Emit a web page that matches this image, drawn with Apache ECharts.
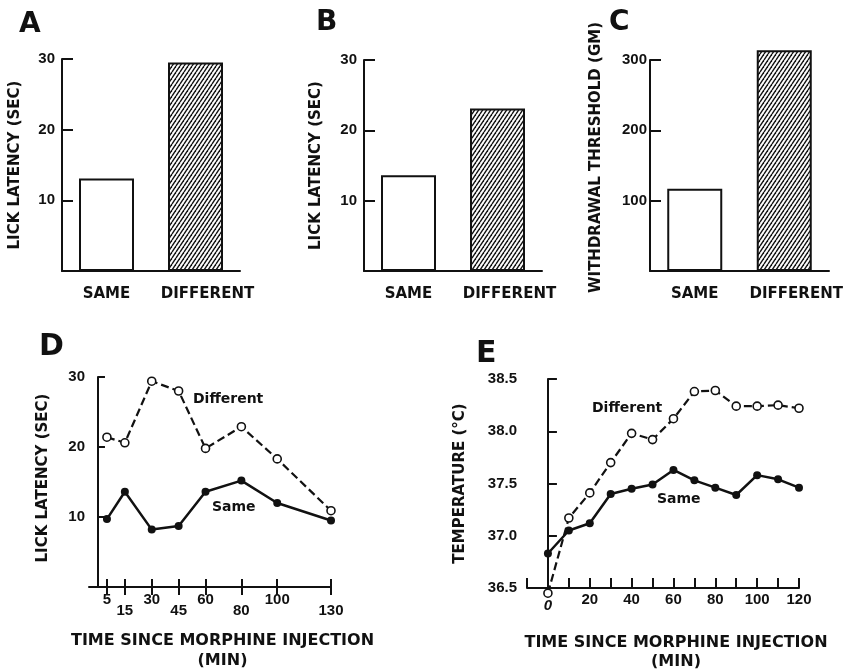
<!DOCTYPE html>
<html>
<head>
<meta charset="utf-8">
<script src="https://cdn.jsdelivr.net/npm/echarts@6/dist/echarts.min.js"></script>
<style>
html,body{margin:0;padding:0;background:#fff;}
#chart{width:856px;height:670px;}
</style>
</head>
<body>
<div id="chart"></div>
<script>
// ---------- data ----------
const barCategories = ['SAME', 'DIFFERENT'];
const panelAValues = [13.1, 29.5];      // lick latency (sec)
const panelBValues = [13.6, 23.1];      // lick latency (sec)
const panelCValues = [117, 314];        // withdrawal threshold (gm)
const panelABTicks = [10, 20, 30];
const panelCTicks = [100, 200, 300];

const dTimes = [5, 15, 30, 45, 60, 80, 100, 130];
const dSame = [9.7, 13.6, 8.2, 8.7, 13.6, 15.2, 12.0, 9.5];
const dDifferent = [21.4, 20.6, 29.4, 28.0, 19.8, 22.9, 18.3, 10.9];
const dTickLabels = [5, 15, 30, 45, 60, 80, 100, 130];
const dLowerRow = [15, 45, 80, 130];

const eTimes = [0, 10, 20, 30, 40, 50, 60, 70, 80, 90, 100, 110, 120];
const eSame = [36.83, 37.05, 37.12, 37.40, 37.45, 37.49, 37.63, 37.53, 37.46, 37.39, 37.58, 37.54, 37.46];
const eDifferent = [36.45, 37.17, 37.41, 37.70, 37.98, 37.92, 38.12, 38.38, 38.39, 38.24, 38.24, 38.25, 38.22];
const eTickLabels = [0, 20, 40, 60, 80, 100, 120];

// ---------- styles ----------
const tickFont = {fontFamily: 'Liberation Sans', fontWeight: 'bold', fontSize: 15, color: '#111'};
const nameFont = {fontFamily: 'DejaVu Sans', fontWeight: 'bold', fontSize: 15, color: '#111'};
const letterFont = {fontFamily: 'DejaVu Sans', fontWeight: 'bold', fontSize: 28, color: '#111'};
const black = '#111';

function hatch() {
  const w = 4, h = 6;
  const c = document.createElement('canvas');
  c.width = w; c.height = h;
  const ctx = c.getContext('2d');
  ctx.fillStyle = '#fff';
  ctx.fillRect(0, 0, w, h);
  ctx.strokeStyle = '#111';
  ctx.lineWidth = 1.4;
  for (let k = -1; k <= 1; k++) {
    ctx.beginPath();
    ctx.moveTo(k * w, h);
    ctx.lineTo(k * w + w, 0);
    ctx.stroke();
  }
  return {image: c, repeat: 'repeat'};
}
const hatchFill = hatch();

function barData(values) {
  return values.map((v, i) => ({
    value: v,
    itemStyle: i === 0
      ? {color: '#fff', borderColor: black, borderWidth: 2}
      : {color: hatchFill, borderColor: black, borderWidth: 2}
  }));
}
function zip(xs, ys) { return xs.map((x, i) => [x, ys[i]]); }

const grids = [
  {left: 62, top: 59, width: 178, height: 212, outerBoundsMode: 'none', containLabel: false},
  {left: 364, top: 60, width: 178, height: 211, outerBoundsMode: 'none', containLabel: false},
  {left: 650, top: 60, width: 179, height: 211, outerBoundsMode: 'none', containLabel: false},
  {left: 89, top: 377, width: 242, height: 210, outerBoundsMode: 'none', containLabel: false},
  {left: 527, top: 379, width: 272, height: 209, outerBoundsMode: 'none', containLabel: false}
];

function barX(gi) {
  return {
    type: 'category', gridIndex: gi, data: barCategories,
    axisLine: {lineStyle: {color: black, width: 2}},
    axisTick: {show: false},
    axisLabel: Object.assign({}, nameFont, {
      margin: 16, interval: 0, hideOverlap: false,
      formatter: v => v === 'DIFFERENT' ? '{d|' + v + '}' : v,
      rich: {d: Object.assign({}, nameFont, {padding: [0, 0, 0, 24]})}
    })
  };
}
function barY(gi, max, ticks, name, gap, margin, namePad) {
  return {
    type: 'value', gridIndex: gi, min: 0, max: max, interval: max / 3,
    name: name, nameLocation: 'middle', nameGap: gap, nameMoveOverlap: false,
    nameTextStyle: Object.assign({}, nameFont, namePad ? {padding: namePad} : {}),
    axisLine: {show: true, lineStyle: {color: black, width: 2}},
    axisTick: {show: true, inside: true, length: 11, lineStyle: {color: black, width: 2}},
    axisLabel: Object.assign({}, tickFont, {margin: margin, formatter: v => ticks.indexOf(v) >= 0 ? String(v) : ''}),
    splitLine: {show: false}
  };
}

const option = {
  backgroundColor: '#fff',
  animation: false,
  title: [
    {text: 'A', left: 19, top: 11, padding: 0, textStyle: letterFont},
    {text: 'B', left: 316, top: 9, padding: 0, textStyle: letterFont},
    {text: 'C', left: 609, top: 9, padding: 0, textStyle: letterFont},
    {text: 'D', left: 39, top: 332, padding: 0, textStyle: Object.assign({}, letterFont, {fontSize: 30})},
    {text: 'E', left: 476, top: 339, padding: 0, textStyle: Object.assign({}, letterFont, {fontSize: 30})}
  ],
  grid: grids,
  xAxis: [
    barX(0), barX(1), barX(2),
    {
      type: 'value', gridIndex: 3, min: -5, max: 130, position: 'bottom',
      name: 'TIME SINCE MORPHINE INJECTION\n(MIN)', nameLocation: 'middle', nameGap: 44, nameMoveOverlap: false,
      nameTextStyle: Object.assign({}, nameFont, {fontSize: 16, lineHeight: 20, padding: [0, 0, 0, 25]}),
      axisLine: {lineStyle: {color: black, width: 2}},
      axisTick: {show: true, customValues: dTickLabels, length: 8, lineStyle: {color: black, width: 2}},
      axisLabel: Object.assign({}, tickFont, {
        customValues: dTickLabels, margin: 7, lineHeight: 11, hideOverlap: false,
        formatter: v => dLowerRow.indexOf(v) >= 0 ? '\n' + v : String(v)
      }),
      splitLine: {show: false}
    },
    {
      type: 'value', gridIndex: 4, min: -10, max: 120, interval: 10, position: 'bottom',
      name: 'TIME SINCE MORPHINE INJECTION\n(MIN)', nameLocation: 'middle', nameGap: 45, nameMoveOverlap: false,
      nameTextStyle: Object.assign({}, nameFont, {fontSize: 16, lineHeight: 19, padding: [0, 0, 0, 26]}),
      axisLine: {lineStyle: {color: black, width: 2}},
      axisTick: {show: true, inside: true, length: 10, lineStyle: {color: black, width: 2}},
      axisLabel: Object.assign({}, tickFont, {
        margin: 4,
        formatter: v => v === 0 ? '{z|0}' : (eTickLabels.indexOf(v) >= 0 ? String(v) : ''),
        rich: {z: Object.assign({}, tickFont, {fontStyle: 'italic', padding: [6, 0, 0, 0]})}
      }),
      splitLine: {show: false}
    },
    {
      type: 'value', gridIndex: 3, min: -5, max: 130, position: 'bottom', offset: 0,
      axisLine: {show: false},
      axisTick: {show: true, inside: true, customValues: dTickLabels, length: 8, lineStyle: {color: black, width: 2}},
      axisLabel: {show: false},
      splitLine: {show: false}
    }
  ],
  yAxis: [
    barY(0, 30, panelABTicks, 'LICK LATENCY (SEC)', 39, 7),
    barY(1, 30, panelABTicks, 'LICK LATENCY (SEC)', 40, 7),
    barY(2, 300, panelCTicks, 'WITHDRAWAL THRESHOLD (GM)', 46, 3, [0, 0, 0, 16]),
    {
      type: 'value', gridIndex: 3, min: 0, max: 30, interval: 10,
      name: 'LICK LATENCY (SEC)', nameLocation: 'middle', nameGap: 38, nameMoveOverlap: false,
      nameTextStyle: Object.assign({}, nameFont, {padding: [0, 0, 0, 8]}),
      axisLine: {show: true, lineStyle: {color: black, width: 2}},
      axisTick: {show: true, inside: true, length: 7, lineStyle: {color: black, width: 2}},
      axisLabel: Object.assign({}, tickFont, {margin: 4, formatter: v => v === 0 ? '' : String(v)}),
      splitLine: {show: false}
    },
    {
      type: 'value', gridIndex: 4, min: 36.5, max: 38.5, interval: 0.5,
      name: 'TEMPERATURE (°C)', nameLocation: 'middle', nameGap: 59, nameMoveOverlap: false,
      nameTextStyle: nameFont,
      axisLine: {show: true, lineStyle: {color: black, width: 2}},
      axisTick: {show: true, inside: true, length: 9, lineStyle: {color: black, width: 2}},
      axisLabel: Object.assign({}, tickFont, {margin: 10, formatter: v => v.toFixed(1)}),
      splitLine: {show: false}
    }
  ],
  graphic: [
    {type: 'text', left: 193, top: 392, style: {text: 'Different', font: 'bold 14px "DejaVu Sans"', fill: black}},
    {type: 'text', left: 212, top: 500, style: {text: 'Same', font: 'bold 14px "DejaVu Sans"', fill: black}},
    {type: 'text', left: 592, top: 401, style: {text: 'Different', font: 'bold 14px "DejaVu Sans"', fill: black}},
    {type: 'text', left: 657, top: 492, style: {text: 'Same', font: 'bold 14px "DejaVu Sans"', fill: black}}
  ],
  series: [
    {type: 'bar', xAxisIndex: 0, yAxisIndex: 0, data: barData(panelAValues), barWidth: 55, clip: false},
    {type: 'bar', xAxisIndex: 1, yAxisIndex: 1, data: barData(panelBValues), barWidth: 55, clip: false},
    {type: 'bar', xAxisIndex: 2, yAxisIndex: 2, data: barData(panelCValues), barWidth: 55, clip: false},
    {
      type: 'line', xAxisIndex: 3, yAxisIndex: 3, data: zip(dTimes, dSame), clip: false,
      symbol: 'circle', symbolSize: 8, itemStyle: {color: black},
      lineStyle: {color: black, width: 2.5}
    },
    {
      type: 'line', xAxisIndex: 3, yAxisIndex: 3, data: zip(dTimes, dDifferent), clip: false,
      symbol: 'circle', symbolSize: 8, itemStyle: {color: '#fff', borderColor: black, borderWidth: 1.6},
      lineStyle: {color: black, width: 2.2, type: [8, 4]}
    },
    {
      type: 'line', xAxisIndex: 4, yAxisIndex: 4, data: zip(eTimes, eSame), clip: false,
      symbol: 'circle', symbolSize: 8, itemStyle: {color: black},
      lineStyle: {color: black, width: 2.5}
    },
    {
      type: 'line', xAxisIndex: 4, yAxisIndex: 4, data: zip(eTimes, eDifferent), clip: false,
      symbol: 'circle', symbolSize: 8, itemStyle: {color: '#fff', borderColor: black, borderWidth: 1.6},
      lineStyle: {color: black, width: 2.2, type: [8, 4]}
    }
  ]
};

const chart = echarts.init(document.getElementById('chart'), null, {renderer: 'canvas'});
chart.setOption(option);
</script>
</body>
</html>
